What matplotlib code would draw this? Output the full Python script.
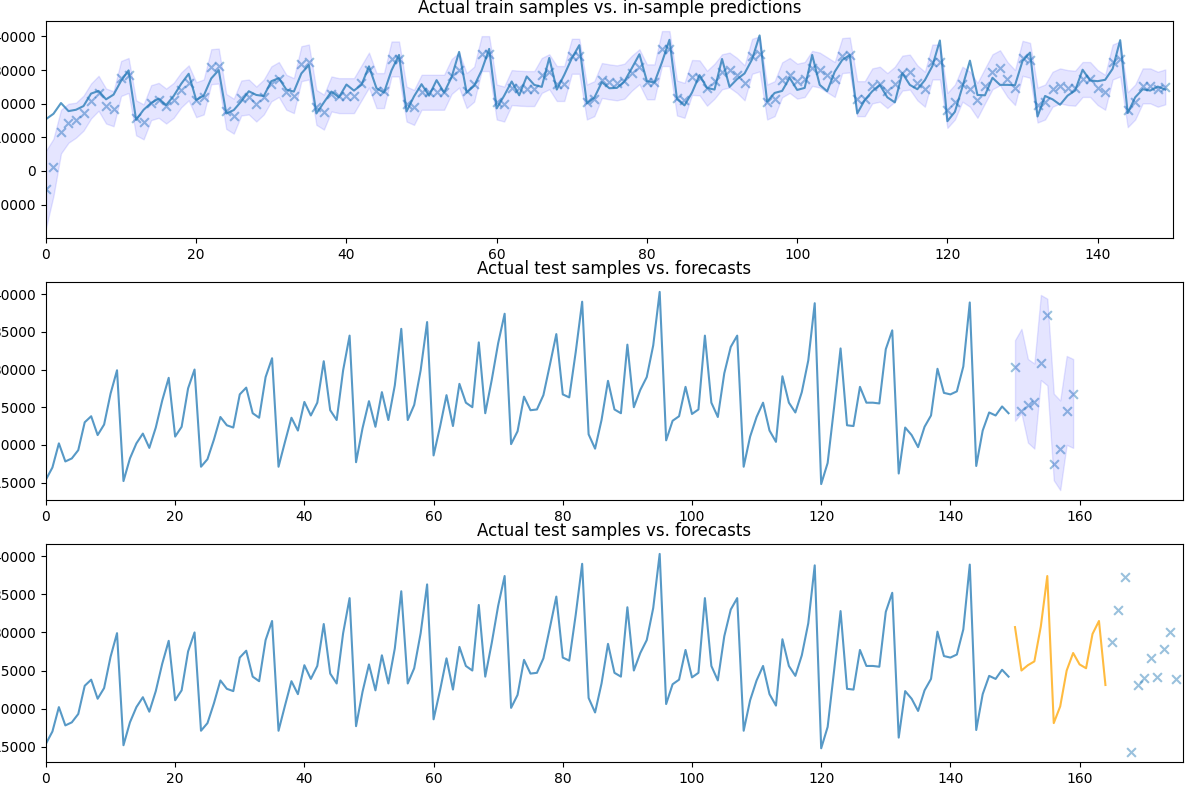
import numpy as np
import matplotlib
matplotlib.use("Agg")
import matplotlib.pyplot as plt

# observed series (train, 150 points)
train = [15400, 17000, 20200, 17800, 18200, 19300, 23000, 23800, 21300, 22700,
         26800, 29900, 15200, 18200, 20200, 21500, 19600, 22300, 25900, 28900,
         21100, 22400, 27500, 30000, 17100, 18100, 20700, 23700, 22600, 22300,
         26700, 27600, 24200, 23600, 29000, 31500, 17100, 20400, 23600, 21900,
         25700, 23900, 25600, 31100, 24600, 23300, 29900, 34500, 17700, 22200,
         25800, 22400, 27000, 23300, 27900, 35400, 23300, 25300, 29900, 36300,
         18600, 22400, 26600, 22500, 28100, 25600, 25000, 33600, 24200, 28600,
         33500, 37400, 20100, 21800, 26400, 24600, 24700, 26600, 30600, 34700,
         26700, 26300, 32300, 39000, 21400, 19500, 23300, 28500, 24700, 24200,
         33300, 25000, 27300, 29000, 33200, 40300, 20600, 23200, 23800, 27700,
         24100, 24700, 34500, 25600, 23700, 29500, 33000, 34500, 17100, 21100,
         23700, 25600, 21900, 20400, 29100, 25600, 24300, 27000, 31200, 38800,
         14800, 17600, 25000, 32800, 22600, 22500, 27700, 25600, 25600, 25500,
         32700, 35200, 16200, 22300, 21300, 19700, 22400, 23900, 30100, 26900,
         26700, 27100, 30400, 38900, 17200, 21900, 24300, 23900, 25100, 24200]

# in-sample predictions
insample = [-5500, 1100, 11700, 14200, 15100, 17200, 20800, 23100, 19300, 18500,
            27500, 28400, 15800, 14600, 20300, 21000, 19300, 21000, 24100, 26200,
            21200, 22000, 31000, 31200, 17700, 16300, 21700, 22000, 19900, 22000,
            25900, 27200, 23400, 22400, 31900, 32400, 18900, 17500, 22900, 22400,
            22400, 22400, 26200, 30000, 23900, 23900, 33300, 33300, 19900, 18900,
            23400, 23400, 23400, 23400, 28100, 30000, 23900, 25800, 34900, 34900,
            20500, 19900, 24800, 24600, 24500, 24500, 28400, 29500, 26000, 26000,
            34100, 34100, 20500, 21500, 26900, 26500, 26200, 26700, 29100, 31000,
            26500, 26500, 36400, 36400, 21700, 21000, 27800, 27700, 24600, 26700,
            29500, 30000, 28400, 26200, 34100, 34800, 20500, 21500, 27100, 28400,
            26700, 27200, 30500, 30000, 28600, 27200, 34300, 34500, 21500, 21500,
            25300, 25800, 23900, 25800, 29100, 29400, 26200, 24300, 32400, 32400,
            18000, 20500, 25800, 24300, 21000, 25300, 29500, 30700, 27200, 24800,
            33500, 32900, 19600, 20500, 24300, 25300, 24800, 24600, 27200, 27200,
            24800, 23400, 32400, 33300, 18200, 20500, 25300, 25300, 24300, 25000]
insample_halfwidth_start = [11500, 8500, 6500, 5800]
insample_halfwidth = 5200

# test actuals with forecast interval (middle panel)
test_actual = [30400, 24500, 25300, 25700, 30900, 37300, 17500, 19500, 24500, 26800]
test_upper = [33900, 35400, 31400, 30800, 39900, 39400, 26800, 25900, 31800, 31400]
test_lower = [23200, 24200, 20300, 19500, 28600, 27900, 15300, 14000, 20000, 19600]

# bottom panel
forecast = [30700, 25000, 25700, 26200, 30800, 37400, 18100, 20300, 25000, 27300,
            25800, 25300, 29800, 31500, 23100]
future_pts = [28800, 33000, 37300, 14300, 23100, 24000, 26700, 24200, 27800, 30000, 23900]

n = len(train)
x_train = np.arange(n)
x_test = np.arange(n, n + len(test_actual))
x_fc = np.arange(n, n + len(forecast))
x_fut = np.arange(n + len(forecast), n + len(forecast) + len(future_pts))

hw = np.full(n, insample_halfwidth, dtype=float)
hw[:len(insample_halfwidth_start)] = insample_halfwidth_start
pred = np.array(insample, dtype=float)

fig = plt.figure(figsize=(12, 8), dpi=100)
ax1 = fig.add_axes([0.0383, 0.7025, 0.939, 0.271])
ax2 = fig.add_axes([0.0383, 0.375, 0.9475, 0.2725])
ax3 = fig.add_axes([0.0383, 0.0475, 0.9475, 0.2725])

line_c = "#1f77b4"

ax1.plot(x_train, train, color=line_c, alpha=0.75)
ax1.scatter(x_train, pred, marker="x", color=line_c, alpha=0.45, s=40)
ax1.fill_between(x_train, pred - hw, pred + hw, color="b", alpha=0.1)
ax1.set_xlim(0, 150)
ax1.set_title("Actual train samples vs. in-sample predictions")

ax2.plot(x_train, train, color=line_c, alpha=0.75)
ax2.scatter(x_test, test_actual, marker="x", color=line_c, alpha=0.45, s=40)
ax2.fill_between(x_test, test_lower, test_upper, color="b", alpha=0.1)
ax2.set_xlim(0, 176)
ax2.set_title("Actual test samples vs. forecasts")

ax3.plot(x_train, train, color=line_c, alpha=0.75)
ax3.plot(x_fc, forecast, color="orange", alpha=0.75)
ax3.scatter(x_fut, future_pts, marker="x", color=line_c, alpha=0.45, s=40)
ax3.set_xlim(0, 176)
ax3.set_title("Actual test samples vs. forecasts")

fig.savefig("out.png", dpi=100)
